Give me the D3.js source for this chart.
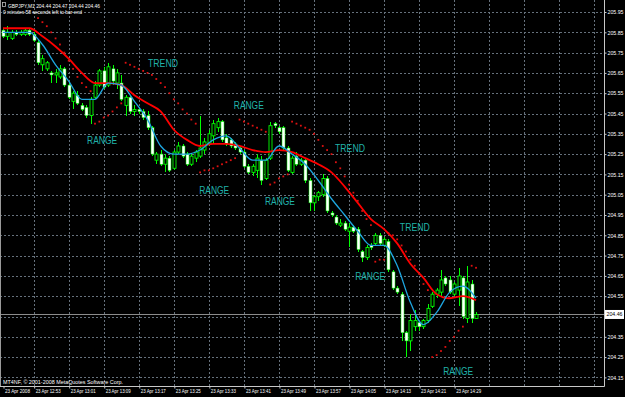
<!DOCTYPE html>
<html><head><meta charset="utf-8">
<script src="https://cdn.jsdelivr.net/npm/d3@7"></script>
<style>html,body{margin:0;padding:0;background:#000;overflow:hidden}svg{display:block}</style>
</head><body>
<svg id="c" width="625" height="397"></svg>
<script>
// ---------- data (GBPJPY, M1, 23 Apr 2008, bars from 12:46) ----------
const barOpen = [205.86,205.83,205.82,205.85,205.84,205.84,205.86,205.84,205.80,205.69,
205.67,205.65,205.64,205.63,205.67,205.59,205.51,205.54,205.49,205.48,
205.44,205.53,205.59,205.66,205.59,205.67,205.60,205.60,205.49,205.53,
205.46,205.47,205.46,205.44,205.38,205.22,205.25,205.20,205.23,205.18,
205.26,205.29,205.25,205.20,205.23,205.24,205.27,205.30,205.34,205.38,
205.41,205.33,205.32,205.30,205.28,205.26,205.19,205.16,205.17,205.22,
205.13,205.23,205.40,205.38,205.38,205.28,205.16,205.24,205.20,205.22,
205.12,205.01,205.04,205.05,205.13,204.96,204.94,204.90,204.91,204.87,
204.89,204.88,204.77,204.74,204.80,204.81,204.85,204.80,204.82,204.67,
204.59,204.56,204.37,204.33,204.40,204.42,204.40,204.43,204.50,204.56,
204.57,204.64,204.63,204.56,204.58,204.64,204.44,204.61,204.44];
const barHigh = [205.87,205.88,205.86,205.86,205.86,205.87,205.87,205.85,205.81,205.74,
205.71,205.66,205.67,205.69,205.68,205.60,205.56,205.56,205.50,205.49,
205.53,205.61,205.67,205.68,205.70,205.69,205.67,205.64,205.54,205.54,
205.49,205.48,205.47,205.46,205.39,205.26,205.27,205.25,205.24,205.27,
205.31,205.30,205.26,205.25,205.27,205.44,205.33,205.37,205.42,205.43,
205.42,205.35,205.33,205.31,205.29,205.27,205.20,205.20,205.25,205.24,
205.23,205.41,205.41,205.39,205.39,205.29,205.24,205.26,205.23,205.23,
205.13,205.05,205.07,205.15,205.14,204.97,204.95,204.93,204.92,204.91,
204.90,204.89,204.78,204.80,204.81,204.86,204.86,204.84,204.83,204.68,
204.60,204.57,204.38,204.46,204.48,204.43,204.44,204.51,204.57,204.59,
204.68,204.65,204.65,204.62,204.69,204.65,204.70,204.63,204.47];
const barLow = [205.82,205.81,205.81,205.83,205.83,205.83,205.83,205.80,205.69,205.66,
205.66,205.60,205.60,205.62,205.58,205.52,205.47,205.49,205.46,205.43,
205.40,205.52,205.58,205.57,205.58,205.59,205.57,205.51,205.44,205.45,
205.44,205.45,205.42,205.37,205.24,205.20,205.19,205.16,205.16,205.17,
205.25,205.23,205.19,205.19,205.21,205.23,205.25,205.29,205.30,205.36,
205.31,205.29,205.28,205.27,205.25,205.18,205.15,205.14,205.13,205.10,
205.12,205.22,205.38,205.35,205.27,205.16,205.15,205.19,205.19,205.11,
204.97,204.97,205.02,205.04,204.96,204.94,204.90,204.89,204.87,204.79,
204.86,204.77,204.72,204.73,204.78,204.80,204.80,204.79,204.67,204.58,
204.56,204.33,204.25,204.28,204.38,204.38,204.39,204.42,204.49,204.54,
204.55,204.60,204.56,204.55,204.50,204.44,204.42,204.42,204.44];
const barClose = [205.83,205.85,205.85,205.84,205.85,205.86,205.84,205.81,205.70,205.72,
205.70,205.64,205.65,205.67,205.59,205.53,205.55,205.50,205.47,205.44,
205.52,205.59,205.66,205.58,205.68,205.61,205.65,205.52,205.53,205.46,
205.47,205.46,205.43,205.38,205.25,205.25,205.20,205.23,205.17,205.26,
205.29,205.24,205.20,205.24,205.26,205.28,205.31,205.35,205.40,205.41,
205.32,205.30,205.29,205.28,205.26,205.19,205.16,205.19,205.23,205.12,
205.22,205.39,205.39,205.36,205.28,205.17,205.23,205.20,205.22,205.12,
205.01,205.04,205.06,205.13,204.97,204.95,204.91,204.91,204.88,204.89,
204.87,204.78,204.74,204.79,204.79,204.85,204.81,204.83,204.68,204.59,
204.57,204.37,204.33,204.43,204.43,204.40,204.43,204.49,204.56,204.58,
204.63,204.61,204.57,204.61,204.65,204.45,204.62,204.44,204.46];

// parabolic SAR dots (null = no dot)
const sarValues = [null,null,null,null,null,null,null,null,
205.92,205.90,205.88,205.85,205.82,205.79,205.75,205.71,205.67,205.63,205.60,205.58,
205.56,
205.40,205.41,205.43,205.44,205.46,205.48,205.50,
205.70,205.69,205.68,205.67,205.66,205.65,205.64,205.62,205.60,205.58,205.55,205.52,205.50,205.47,205.45,205.42,205.40,
205.16,205.17,205.17,205.18,205.19,205.20,205.21,205.22,205.23,
205.42,205.41,205.40,205.39,205.38,205.37,205.36,
205.10,205.11,205.13,205.14,205.15,
205.41,205.40,205.39,205.38,205.37,205.35,205.32,205.29,205.27,205.25,205.21,205.18,205.14,205.10,205.06,205.02,204.97,204.93,204.90,
204.72,204.73,204.73,
204.86,204.85,204.83,204.80,204.77,204.73,204.70,204.66,204.61,204.58,
204.25,204.26,204.28,204.30,204.33,204.35,204.38,204.40,
null,
204.70,204.69];

// moving averages, read every third bar
const maBars = [0,3,6,9,12,15,18,21,24,27,30,33,36,39,42,45,48,51,54,57,60,63,66,69,72,75,78,81,84,87,90,93,96,99,102,105,108];
const maSlow = [205.87,205.87,205.87,205.83,205.78,205.72,205.65,205.60,205.60,205.59,205.54,205.50,205.46,205.37,205.32,205.29,205.30,205.30,205.29,205.27,205.26,205.27,205.26,205.23,205.20,205.16,205.09,205.01,204.93,204.88,204.81,204.71,204.64,204.56,204.54,204.55,204.53];
const maFast = [205.85,205.85,205.85,205.79,205.69,205.61,205.52,205.52,205.60,205.59,205.51,205.42,205.29,205.25,205.25,205.27,205.32,205.34,205.28,205.22,205.22,205.29,205.25,205.20,205.12,205.03,204.95,204.87,204.80,204.80,204.70,204.52,204.41,204.47,204.57,204.60,204.54];

const priceTicks = [205.95,205.85,205.75,205.65,205.55,205.45,205.35,205.25,205.15,205.05,204.95,204.85,204.75,204.65,204.55,204.45,204.35,204.25,204.15];
const timeTickBars = [0,7,15,23,31,39,47,55,63,71,79,87,95,103];
const timeTickLabels = ["23 Apr 2008","23 Apr 12:53","23 Apr 13:01","23 Apr 13:09","23 Apr 13:17","23 Apr 13:25","23 Apr 13:33","23 Apr 13:41","23 Apr 13:49","23 Apr 13:57","23 Apr 14:05","23 Apr 14:13","23 Apr 14:21","23 Apr 14:29"];
const extraGridBars = [111,119,127,135];

const annoText = ["TREND","RANGE","RANGE","RANGE","RANGE","TREND","TREND","RANGE","RANGE"];
const annoBar = [33.1,19.2,52.7,44.8,59.8,75.8,90.6,80.4,100.5];
const annoPrice = [205.70,205.32,205.49,205.07,205.02,205.28,204.89,204.65,204.18];

const titleLine1 = "GBPJPY,M1  204.44 204.47 204.44 204.46";
const titleLine2 = "0 minutes 58 seconds left to bar end";
const footerText = "MT4NF, \u00a9 2001-2008 MetaQuotes Software Corp.";

// ---------- drawing ----------
const plotRight = 604, plotBottom = 386;
const svg = d3.select('#c');
svg.append('rect').attr('width',625).attr('height',397).attr('fill','#000');

const x = d3.scaleLinear().domain([0,108]).range([3, 3 + 4.38*108]);
const y = d3.scaleLinear().domain([204.15,205.95]).range([377.4,12]);
const px = v => Math.round(x(v)) + 0.5;
const py = v => Math.round(y(v)) + 0.5;

const grid = svg.append('g').attr('stroke','#66717c').attr('stroke-dasharray','2,2').attr('shape-rendering','crispEdges');
grid.selectAll('line.h').data(priceTicks).join('line')
  .attr('x1',0).attr('x2',plotRight).attr('y1',d=>py(d)).attr('y2',d=>py(d));
grid.selectAll('line.v').data(timeTickBars.slice(1).concat(extraGridBars)).join('line')
  .attr('x1',d=>px(d)).attr('x2',d=>px(d)).attr('y1',0).attr('y2',plotBottom);

const lastClose = barClose[barClose.length-1];
svg.append('line').attr('x1',0).attr('x2',plotRight).attr('y1',py(lastClose)).attr('y2',py(lastClose))
  .attr('stroke','#8c8c8c').attr('shape-rendering','crispEdges');

const bars = d3.range(barOpen.length);
const cg = svg.append('g');
cg.selectAll('line').data(bars).join('line')
  .attr('x1',i=>px(i)).attr('x2',i=>px(i))
  .attr('y1',i=>y(barHigh[i])).attr('y2',i=>y(barLow[i]))
  .attr('stroke','#00ff00').attr('stroke-width',1).attr('shape-rendering','crispEdges');
cg.selectAll('rect').data(bars).join('rect')
  .attr('x',i=>Math.round(x(i))-1)
  .attr('width',3)
  .attr('y',i=>y(Math.max(barOpen[i],barClose[i])))
  .attr('height',i=>Math.max(1, Math.abs(y(barOpen[i])-y(barClose[i]))))
  .attr('fill',i=>barClose[i]<barOpen[i]?'#ffffff':'#000000')
  .attr('stroke','#00ff00').attr('stroke-width',i=>barClose[i]<barOpen[i]?0.5:0.9);

const lineGen = vals => d3.line().x((d,k)=>x(maBars[k])).y(d=>y(d)).curve(d3.curveMonotoneX)(vals);
svg.append('path').attr('d',lineGen(maSlow)).attr('fill','none').attr('stroke','#ff0000').attr('stroke-width',1.8);
svg.append('path').attr('d',lineGen(maFast)).attr('fill','none').attr('stroke','#1ea6e0').attr('stroke-width',1.3);

svg.append('g').selectAll('rect').data(bars.filter(i=>sarValues[i]!=null)).join('rect')
  .attr('x',i=>x(i)-0.9).attr('y',i=>y(sarValues[i])-0.9).attr('width',1.8).attr('height',1.8)
  .attr('fill','#dd1111');

svg.append('g').selectAll('text').data(annoText).join('text')
  .attr('x',(d,k)=>x(annoBar[k])).attr('y',(d,k)=>y(annoPrice[k])).attr('dy','0.36em')
  .attr('font-family','Liberation Sans, Arial, sans-serif').attr('font-size',10.5)
  .attr('fill','#20b2aa').attr('textLength',30).attr('lengthAdjust','spacingAndGlyphs')
  .text(d=>d);

// axes
svg.append('line').attr('x1',plotRight+0.5).attr('x2',plotRight+0.5).attr('y1',0).attr('y2',plotBottom+0.5)
  .attr('stroke','#c8c8c8');
svg.append('line').attr('x1',0).attr('x2',plotRight+0.5).attr('y1',plotBottom+0.5).attr('y2',plotBottom+0.5)
  .attr('stroke','#c8c8c8');
svg.append('line').attr('x1',0.5).attr('x2',0.5).attr('y1',0).attr('y2',plotBottom).attr('stroke','#9a9a9a');

const tf = 'Liberation Sans, Arial, sans-serif';
const labelTicks = priceTicks.filter(p=>Math.abs(p-lastClose)>0.03);
const ya = svg.append('g').attr('transform',`translate(${plotRight+0.5},0)`)
  .call(d3.axisRight(y).tickValues(labelTicks).tickFormat(d3.format('.2f')).tickSize(2).tickPadding(1));
ya.select('.domain').remove();
ya.selectAll('line').attr('stroke','#c8c8c8');
ya.selectAll('text').attr('fill','#ffffff').attr('font-size',5.5).attr('font-family',tf)
  .attr('textLength',16).attr('lengthAdjust','spacingAndGlyphs');

const boxY = y(lastClose);
svg.append('rect').attr('x',plotRight+1).attr('y',boxY-4.5).attr('width',19).attr('height',9).attr('fill','#ffffff');
svg.append('text').attr('x',plotRight+2.5).attr('y',boxY).attr('dy','0.34em').attr('font-size',5.5)
  .attr('font-family',tf).attr('fill','#000')
  .attr('textLength',16).attr('lengthAdjust','spacingAndGlyphs').text(d3.format('.2f')(lastClose));

const xa = svg.append('g').attr('transform',`translate(0,${plotBottom+0.5})`)
  .call(d3.axisBottom(x).tickValues(timeTickBars).tickFormat((d,k)=>timeTickLabels[k]).tickSize(2));
xa.select('.domain').remove();
xa.selectAll('line').attr('stroke','#c8c8c8').attr('transform','translate(0.5,0)');
xa.selectAll('text').attr('fill','#ffffff').attr('font-size',5).attr('font-family',tf)
  .attr('text-anchor','start').attr('x',1.5).attr('y',2.5).attr('dy','0.75em')
  .attr('textLength',25).attr('lengthAdjust','spacingAndGlyphs');

// texts
svg.append('rect').attr('x',2.5).attr('y',2.5).attr('width',3).attr('height',4).attr('fill','none').attr('stroke','#bbbbbb').attr('stroke-width',0.8);
svg.append('text').attr('x',8).attr('y',7.5).attr('font-size',6).attr('font-family',tf).attr('fill','#fff')
  .attr('textLength',92).attr('lengthAdjust','spacingAndGlyphs').text(titleLine1);
svg.append('text').attr('x',3).attr('y',14).attr('font-size',6).attr('font-family',tf).attr('fill','#fff')
  .attr('textLength',79).attr('lengthAdjust','spacingAndGlyphs').text(titleLine2);
svg.append('text').attr('x',3).attr('y',383.5).attr('font-size',6).attr('font-family',tf).attr('fill','#fff')
  .attr('textLength',120).attr('lengthAdjust','spacingAndGlyphs').text(footerText);
</script>
</body></html>
